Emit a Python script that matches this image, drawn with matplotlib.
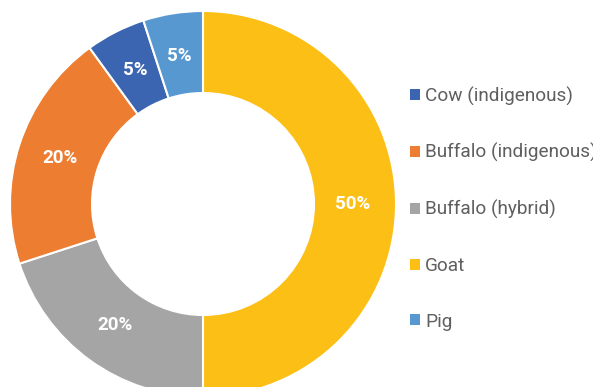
import matplotlib
matplotlib.use("Agg")
import matplotlib.pyplot as plt
from matplotlib.patches import Patch

plt.rcParams['font.family'] = ['Roboto', 'DejaVu Sans']

# Slices in clockwise drawing order, starting at 12 o'clock
slice_names = ["Goat", "Buffalo (hybrid)", "Buffalo (indigenous)", "Cow (indigenous)", "Pig"]
slice_shares = [50, 20, 20, 5, 5]
slice_colors = ["#FBBF15", "#A4A5A4", "#EC7D31", "#3B65B0", "#5898D1"]

# Legend order
legend_names = ["Cow (indigenous)", "Buffalo (indigenous)", "Buffalo (hybrid)", "Goat", "Pig"]

W, H = 593, 387
fig = plt.figure(figsize=(W / 100, H / 100), dpi=100)
ax = fig.add_axes([0, 0, 1, 1])

cx, cy, R = 203, H - 204, 193
ring = 82 / R

wedges, _, autotexts = ax.pie(
    slice_shares,
    colors=slice_colors,
    startangle=90,
    counterclock=False,
    center=(cx, cy),
    radius=R,
    autopct=lambda p: f"{p:.0f}%",
    pctdistance=1 - ring / 2 - 0.01,
    wedgeprops=dict(width=R * ring, edgecolor="white", linewidth=1.5),
    textprops=dict(color="white", fontsize=13.5, fontweight="bold"),
    frame=True,
)
ax.set_xlim(0, W)
ax.set_ylim(0, H)
ax.set_aspect("equal")
ax.axis("off")

color_of = dict(zip(slice_names, slice_colors))
handles = [Patch(facecolor=color_of[n], edgecolor="none", label=n) for n in legend_names]
ax.legend(
    handles=handles,
    loc="center left",
    bbox_to_anchor=(410, H - 208.5),
    bbox_transform=ax.transData,
    frameon=False,
    fontsize=13.7,
    labelcolor="#5f5f5f",
    handlelength=0.53,
    handleheight=0.53,
    handletextpad=0.26,
    labelspacing=1.98,
    borderpad=0,
    borderaxespad=0,
)

fig.savefig("out.png", dpi=100)
